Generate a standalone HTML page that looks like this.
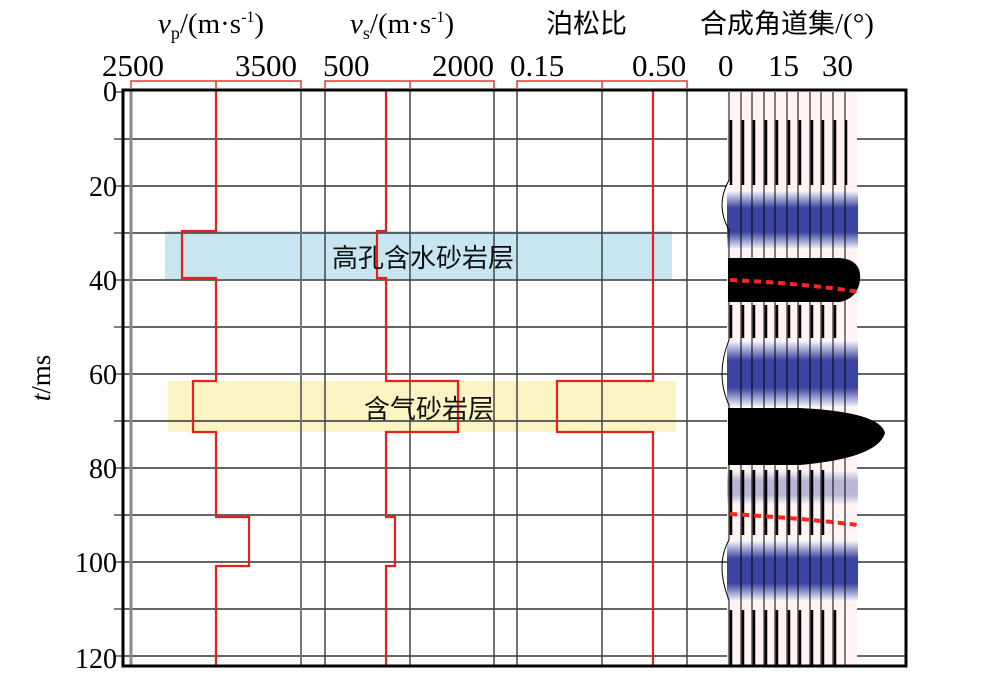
<!DOCTYPE html>
<html><head><meta charset="utf-8"><style>
body{margin:0;background:#fff;}
svg{display:block;font-family:"Liberation Serif","Noto Serif CJK SC",serif;}
</style></head><body>
<svg width="1000" height="688" viewBox="0 0 1000 688" xmlns="http://www.w3.org/2000/svg">
<defs>
<linearGradient id="b1" x1="0" y1="0" x2="0" y2="1">
<stop offset="0" stop-color="#fff"/><stop offset="0.3" stop-color="#3a43a0"/><stop offset="0.7" stop-color="#3a43a0"/><stop offset="1" stop-color="#fff"/>
</linearGradient>
</defs>
<rect x="165" y="231" width="507" height="48" fill="#c8e6f2"/>
<rect x="168" y="381" width="508" height="51" fill="#faf4c4"/>
<g stroke="#333" stroke-width="1.5">
<line x1="122" y1="139" x2="907" y2="139"/><line x1="122" y1="186" x2="907" y2="186"/>
<line x1="122" y1="233" x2="907" y2="233"/><line x1="122" y1="280" x2="907" y2="280"/>
<line x1="122" y1="327" x2="907" y2="327"/><line x1="122" y1="374" x2="907" y2="374"/>
<line x1="122" y1="421" x2="907" y2="421"/><line x1="122" y1="468" x2="907" y2="468"/>
<line x1="122" y1="515" x2="907" y2="515"/><line x1="122" y1="562" x2="907" y2="562"/>
<line x1="122" y1="609" x2="907" y2="609"/><line x1="122" y1="656" x2="907" y2="656"/>
</g>
<g stroke="#444" stroke-width="1.5">
<line x1="131" y1="90" x2="131" y2="667" stroke="#888" stroke-width="3"/>
<line x1="301" y1="90" x2="301" y2="667" stroke="#777" stroke-width="2"/>
<line x1="325" y1="90" x2="325" y2="667"/><line x1="410" y1="90" x2="410" y2="667"/>
<line x1="494" y1="90" x2="494" y2="667"/><line x1="517" y1="90" x2="517" y2="667"/>
<line x1="602" y1="90" x2="602" y2="667"/><line x1="687" y1="90" x2="687" y2="667"/>
</g>
<g stroke="#e33" stroke-width="1.5" fill="none">
<path d="M131 88V81H301V88M216 81V88"/><path d="M325 88V81H494V88M410 81V88"/><path d="M517 88V81H687V88M602 81V88"/>
</g>
<rect x="727" y="92" width="130" height="574" fill="#fff3f3"/>
<rect x="727" y="190" width="131" height="60" fill="url(#b1)"/>
<rect x="727" y="340" width="131" height="68" fill="url(#b1)"/>
<rect x="727" y="470" width="131" height="35" fill="url(#b1)" opacity="0.35"/>
<rect x="727" y="540" width="131" height="62" fill="url(#b1)"/>
<path d="M728 258 H840 Q862 260 860 280 Q858 298 840 302 H728Z" fill="#000"/>
<path d="M728 408 H800 Q880 412 885 433 Q878 458 800 465 H728Z" fill="#000"/>
<g stroke="#000" stroke-width="2.5" fill="none">
<path d="M731 120V185M743 120V185M754 120V185M766 120V185M777 120V185M789 120V185M800 120V185M812 120V185M823 120V185M835 120V185M846 120V185"/>
<path d="M731 305V338M743 305V338M754 305V338M766 305V338M777 305V338M789 305V338M800 305V338M812 305V338M823 305V338M835 305V338"/>
<path d="M731 470V535M743 470V535M754 470V535M766 470V535M777 470V535M789 470V535M800 470V535M812 470V535M823 470V535"/>
<path d="M731 610V665M743 610V665M754 610V665M766 610V665M777 610V665M789 610V665M800 610V665M812 610V665M823 610V665M835 610V665"/>
</g>
<g stroke="#000" stroke-width="1" fill="none">
<path d="M729 92V180Q715 205 729 230V340Q715 375 729 405V540Q715 565 729 600V666"/>
<path d="M741 92V666M752 92V666M764 92V666M775 92V666M787 92V666M798 92V666M810 92V666M821 92V666M833 92V666M845 92V666"/>
</g>
<g stroke="#f22" stroke-width="4" stroke-dasharray="7,5" fill="none">
<path d="M730 280 Q800 283 860 292"/><path d="M730 514 Q800 518 858 525"/>
</g>
<g stroke="#e8201c" stroke-width="2.2" fill="none">
<path d="M216 90V231H182V278H216V381H193V432H216V517H249V566H216V667"/>
<path d="M386 90V231H377V278H386V381H458V432H386V517H395V566H386V667"/>
<path d="M653 90V381H557V432H653V667"/>
</g>
<rect x="123" y="90" width="783" height="576" fill="none" stroke="#000" stroke-width="3"/>
<g stroke="#000" stroke-width="1">
<path d="M114 92H122M114 139H122M114 186H122M114 233H122M114 280H122M114 327H122M114 374H122M114 421H122M114 468H122M114 515H122M114 562H122M114 609H122M114 656H122"/>
</g>
<g font-size="28" fill="#000" text-anchor="end">
<text x="117" y="101">0</text><text x="117" y="196">20</text><text x="117" y="290">40</text>
<text x="117" y="384">60</text><text x="117" y="478">80</text><text x="117" y="572">100</text><text x="117" y="668">120</text>
</g>
<text x="50" y="378" font-size="27" transform="rotate(-90 50 378)" text-anchor="middle"><tspan font-style="italic">t</tspan>/ms</text>
<g font-size="31" fill="#000">
<text x="102" y="76">2500</text><text x="235" y="76">3500</text>
<text x="323" y="76">500</text><text x="432" y="76">2000</text>
<text x="510" y="76">0.15</text><text x="632" y="76">0.50</text>
<text x="718" y="76">0</text><text x="768" y="76">15</text><text x="822" y="76">30</text>
</g>
<g font-size="29" fill="#000">
<text x="158" y="33"><tspan font-style="italic">v</tspan><tspan font-size="18" dy="6">p</tspan><tspan dy="-6">/(m·s</tspan><tspan font-size="16" dy="-11">-1</tspan><tspan dy="11">)</tspan></text>
<text x="350" y="33"><tspan font-style="italic">v</tspan><tspan font-size="18" dy="6">s</tspan><tspan dy="-6">/(m·s</tspan><tspan font-size="16" dy="-11">-1</tspan><tspan dy="11">)</tspan></text>
<text x="546" y="33" font-family="'Noto Sans CJK SC',sans-serif" font-size="27">泊松比</text>
<text x="700" y="33"><tspan font-family="'Noto Sans CJK SC',sans-serif" font-size="27">合成角道集</tspan>/(°)</text>
</g>
<g font-family="'Noto Sans CJK SC',sans-serif" font-size="26" fill="#111">
<text x="332" y="267">高孔含水砂岩层</text>
<text x="364" y="418">含气砂岩层</text>
</g>
</svg>
</body></html>
